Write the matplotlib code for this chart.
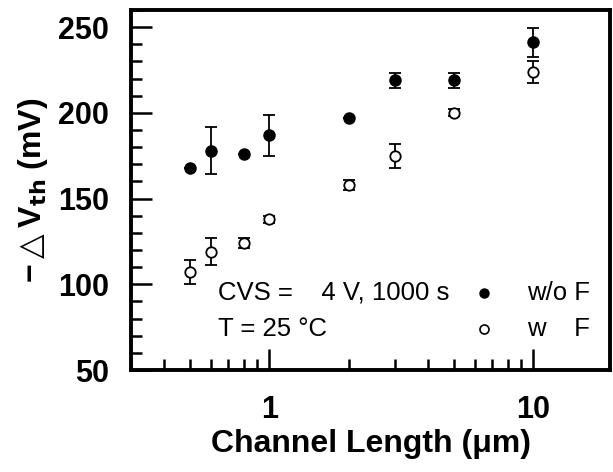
import numpy as np
import matplotlib
matplotlib.use("Agg")
import matplotlib.pyplot as plt
from matplotlib.ticker import MultipleLocator, LogLocator, NullFormatter, FixedLocator

plt.rcParams['font.family'] = ['Liberation Sans', 'DejaVu Sans']

length = [0.5, 0.6, 0.8, 1, 2, 3, 5, 10]

# w/o F (filled)
dv_wo = [168, 178, 176, 187, 197, 219, 219, 241]
err_wo = [0, 13.5, 0, 12, 0, 4.5, 4.5, 8.5]

# w F (open)
dv_w = [107, 119, 124, 138, 158, 175, 200, 224]
err_w = [7, 8, 3, 2, 3, 7, 2, 6.5]

fig = plt.figure(figsize=(6.13, 4.72), dpi=100)
ax = fig.add_axes([0.214, 0.216, 0.781, 0.763])

ax.errorbar(length, dv_wo, yerr=err_wo, fmt='o', color='black', ms=8,
            capsize=4.5, elinewidth=1.3, capthick=1.3)
ax.errorbar(length, dv_w, yerr=err_w, fmt='o', mfc='white', mec='black',
            mew=1.3, ecolor='black', ms=7.5, capsize=4.5, elinewidth=1.3, capthick=1.3)

ax.set_xscale('log')
ax.set_xlim(0.3, 19.5)
ax.set_ylim(50, 260)

ax.xaxis.set_major_locator(FixedLocator([1, 10]))
ax.xaxis.set_major_formatter(plt.FuncFormatter(lambda v, p: f"{v:g}"))
ax.xaxis.set_minor_locator(LogLocator(base=10, subs=np.arange(2, 10)))
ax.xaxis.set_minor_formatter(NullFormatter())
ax.yaxis.set_major_locator(MultipleLocator(50))
ax.yaxis.set_minor_locator(MultipleLocator(10))

ax.tick_params(which='both', direction='in', top=False, right=False,
               labelsize=22, width=1.8)
ax.tick_params(axis='x', which='both', pad=18)
ax.tick_params(axis='y', which='both', pad=16)
ax.tick_params(which='major', length=15)
ax.tick_params(which='minor', length=8)
for lab in ax.get_xticklabels() + ax.get_yticklabels():
    lab.set_fontweight('bold')
for s in ax.spines.values():
    s.set_linewidth(2.8)

ax.set_xlabel("Channel Length (\u03bcm)", fontsize=23, fontweight='bold', labelpad=3)
ax.set_ylabel("\u2212$\\triangle$V$_{\\mathbf{th}}$ (mV)", fontsize=23,
              fontweight='bold', labelpad=6)

ax.text(0.64, 95, "CVS =    4 V, 1000 s", fontsize=18.5, va='center')
ax.text(0.64, 74, "T = 25 \u00b0C", fontsize=18.5, va='center')
ax.plot([6.5], [95], 'o', color='black', ms=6.5)
ax.plot([6.5], [74], 'o', mfc='white', mec='black', mew=1.2, ms=6.5)
ax.text(9.5, 95, "w/o F", fontsize=18.5, va='center')
ax.text(9.5, 74, "w    F", fontsize=18.5, va='center')

fig.savefig("out.png", dpi=100)
